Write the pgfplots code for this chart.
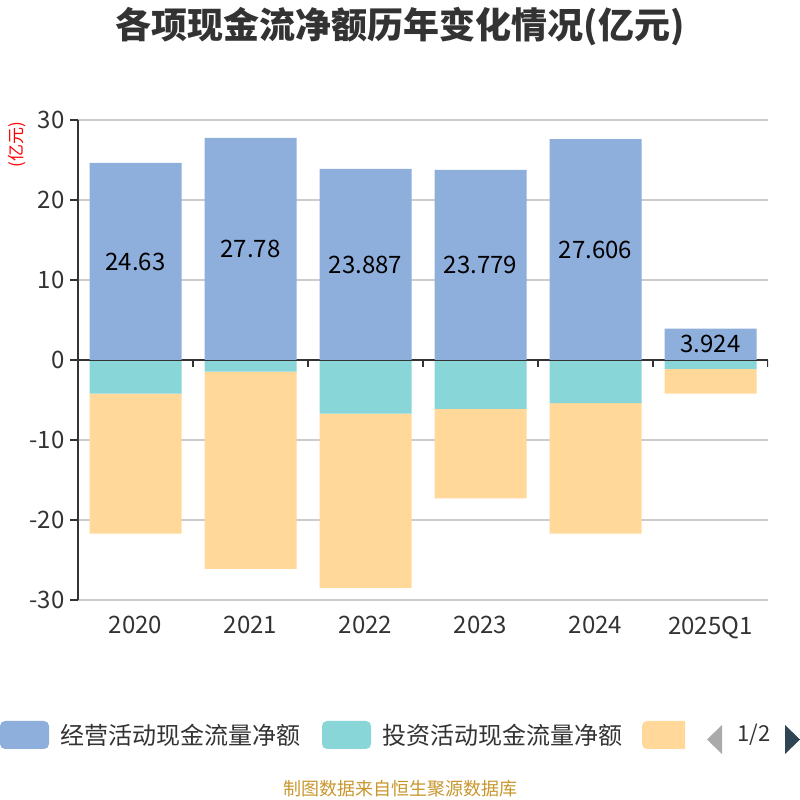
\documentclass[border=0pt]{standalone}
\usepackage{pgfplots}
\pgfplotsset{compat=1.18}
\usepackage{fontspec}
\setmainfont{Noto Sans CJK SC}
\definecolor{cblue}{HTML}{8EAEDB}
\definecolor{cteal}{HTML}{88D6D8}
\definecolor{corange}{HTML}{FFD89A}
\definecolor{gridgray}{HTML}{CCCCCC}
\definecolor{axisdark}{HTML}{333333}
\definecolor{txt}{HTML}{333333}
\definecolor{srcgold}{HTML}{C8962D}
\definecolor{arrowgray}{HTML}{AAAAAA}
\definecolor{arrowdark}{HTML}{2F4554}
\begin{document}
\begin{tikzpicture}
\path[use as bounding box] (0pt,0pt) rectangle (800pt,800pt);
% title
\node[font=\fontsize{36}{40}\selectfont\bfseries, text=txt] at (400pt,773pt) {各项现金流净额历年变化情况(亿元)};
% y unit
\node[font=\fontsize{17}{19}\selectfont, text=red, rotate=90] at (17pt,655pt) {(亿元)};
% axis 1: grid, ticks, negative stacked bars
\begin{axis}[
  at={(78pt,200pt)}, anchor=south west, scale only axis,
  width=690pt, height=480pt,
  xmin=-0.5, xmax=5.5, ymin=-30, ymax=30,
  ytick={-30,-20,...,30},
  ymajorgrids, grid style={color=gridgray, line width=1.2pt},
  axis y line*=left, axis x line*=bottom,
  x axis line style={draw=none},
  y axis line style={color=axisdark, line width=1.5pt},
  y tick style={color=axisdark, line width=1.5pt},
  x tick style={draw=none},
  major tick length=8pt, tick align=outside,
  xtick={0,1,2,3,4,5},
  xticklabels={2020,2021,2022,2023,2024,2025Q1},
  /pgf/number format/assume math mode=true,
  ticklabel style={font=\fontsize{24}{26}\selectfont, text=txt},
  xticklabel style={yshift=-5pt},
  yticklabel style={xshift=-2pt},
  ybar stacked, bar width=0.8,
]
\draw[color=axisdark, line width=1.5pt] (axis cs:-0.5,0) -- (axis cs:5.5,0);
\pgfplotsinvokeforeach{-0.5,0.5,1.5,2.5,3.5,4.5,5.5}{
  \draw[color=axisdark, line width=1.5pt] (axis cs:#1,0) -- ++(0pt,-7pt);
}
\addplot[fill=cteal, draw=none] coordinates {(0,-4.2) (1,-1.45) (2,-6.7) (3,-6.1) (4,-5.4) (5,-1.1)};
\addplot[fill=corange, draw=none] coordinates {(0,-17.5) (1,-24.65) (2,-21.8) (3,-11.2) (4,-16.3) (5,-3.1)};
\end{axis}
% axis 2: positive bars and labels
\begin{axis}[
  at={(78pt,200pt)}, anchor=south west, scale only axis,
  width=690pt, height=480pt,
  xmin=-0.5, xmax=5.5, ymin=-30, ymax=30,
  hide axis,
  ybar, bar width=0.8,
]
\addplot[fill=cblue, draw=none, bar shift=0pt] coordinates {(0,24.63) (1,27.78) (2,23.887) (3,23.779) (4,27.606) (5,3.924)};
\addplot[sharp plot, draw=none, mark=none, nodes near coords, point meta=explicit symbolic,
  every node near coord/.append style={anchor=center, font=\fontsize{24}{26}\selectfont, text=black}]
  coordinates {(0,12.315)[24.63] (1,13.89)[27.78] (2,11.94)[23.887] (3,11.89)[23.779] (4,13.8)[27.606] (5,1.962)[3.924]};
\end{axis}
% legend
\begin{scope}
\clip (0pt,700pt) rectangle (800pt,0pt);
\fill[cblue, rounded corners=5pt] (0pt,79pt) rectangle (49pt,51pt);
\node[anchor=west, font=\fontsize{24}{26}\selectfont, text=txt, inner sep=0pt] at (60pt,65pt) {经营活动现金流量净额};
\fill[cteal, rounded corners=5pt] (322pt,79pt) rectangle (371pt,51pt);
\node[anchor=west, font=\fontsize{24}{26}\selectfont, text=txt, inner sep=0pt] at (382pt,65pt) {投资活动现金流量净额};
\begin{scope}
\clip (630pt,90pt) rectangle (685pt,40pt);
\fill[corange, rounded corners=5pt] (642pt,79pt) rectangle (691pt,51pt);
\end{scope}
\fill[arrowgray] (707pt,60.5pt) -- (722pt,75pt) -- (722pt,46pt) -- cycle;
\node[font=\fontsize{22}{24}\selectfont, text=txt, inner sep=0pt] at (754pt,65pt) {1/2};
\fill[arrowdark] (800pt,60.5pt) -- (785pt,75pt) -- (785pt,46pt) -- cycle;
\end{scope}
% source
\node[font=\fontsize{18}{20}\selectfont, text=srcgold] at (400pt,11pt) {制图数据来自恒生聚源数据库};
\end{tikzpicture}
\end{document}
